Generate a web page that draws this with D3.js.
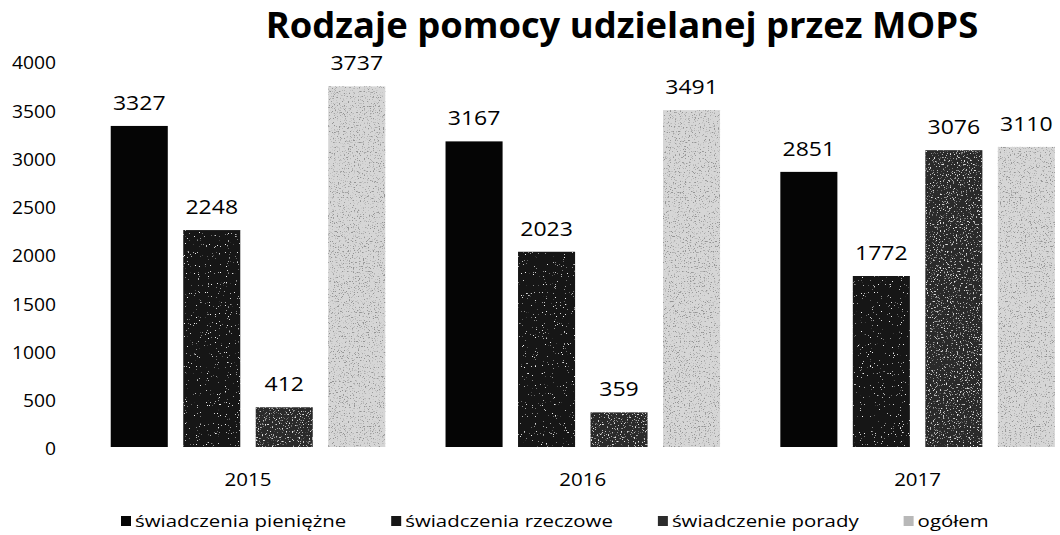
<!DOCTYPE html>
<html>
<head>
<meta charset="utf-8">
<script src="https://cdn.jsdelivr.net/npm/d3@7"></script>
<style>
  html, body { margin: 0; padding: 0; background: #fff; }
  svg { display: block; }
  text { font-family: "Open Sans", "Noto Sans", sans-serif; fill: #000; }
</style>
</head>
<body>
<svg id="chart" width="1060" height="535"></svg>
<script>
// ---- data ----
const title = "Rodzaje pomocy udzielanej przez MOPS";
const years = ["2015", "2016", "2017"];
const seriesNames = ["świadczenia pieniężne", "świadczenia rzeczowe", "świadczenie porady", "ogółem"];
const pieniezne = [3327, 3167, 2851];
const rzeczowe  = [2248, 2023, 1772];
const porady    = [412, 359, 3076];
const ogolem    = [3737, 3491, 3110];
const yTicks = [0, 500, 1000, 1500, 2000, 2500, 3000, 3500, 4000];

const seriesValues = [pieniezne, rzeczowe, porady, ogolem];
const fills = ["#050505", "#161616", "#2c2c2c", "#d6d6d6"];
const filters = [null, "url(#speckDark)", "url(#speckMid)", "url(#speckLight)"];

const svg = d3.select("#chart");

// ---- filters for scanned texture ----
const defs = svg.append("defs");
function speck(id, color, k, b, seed, freq) {
  const f = defs.append("filter").attr("id", id)
    .attr("x", 0).attr("y", 0).attr("width", 1).attr("height", 1)
    .attr("filterUnits", "objectBoundingBox");
  f.append("feTurbulence").attr("type", "fractalNoise").attr("baseFrequency", freq)
    .attr("numOctaves", 2).attr("seed", seed).attr("result", "noise");
  f.append("feColorMatrix").attr("in", "noise").attr("type", "matrix")
    .attr("values", `0 0 0 0 ${color[0]}  0 0 0 0 ${color[1]}  0 0 0 0 ${color[2]}  ${k} 0 0 0 ${b}`)
    .attr("result", "dots");
  f.append("feComposite").attr("in", "dots").attr("in2", "SourceGraphic").attr("operator", "in").attr("result", "clip");
  const m = f.append("feMerge");
  m.append("feMergeNode").attr("in", "SourceGraphic");
  m.append("feMergeNode").attr("in", "clip");
}
speck("speckDark", [0.9, 0.9, 0.9], 10, -7.1, 3, 0.9);
speck("speckMid", [0.8, 0.8, 0.8], 7, -4.3, 7, 0.7);
speck("speckLight", [0.3, 0.3, 0.3], 7, -4.1, 11, 0.8);

// ---- scales ----
const x0 = d3.scaleBand().domain(years).range([80.6, 1085]).paddingInner(0.18).paddingOuter(0.09);
const x1 = d3.scaleBand().domain(d3.range(seriesNames.length)).range([0, x0.bandwidth()]).paddingInner(0.213).paddingOuter(0);
const y = d3.scaleLinear().domain([0, 4000]).range([447, 61]);

function sText(g, x, yy, str, size, sx, anchor, weight) {
  return g.append("text")
    .attr("transform", `translate(${x},${yy}) scale(${sx},1)`)
    .attr("text-anchor", anchor)
    .style("font-size", size + "px")
    .style("font-weight", weight || 400)
    .text(str);
}

// ---- title ----
sText(svg, 622, 38, title, 35, 1.04, "middle", 700);

// ---- y axis labels (no axis line) ----
const yAxis = d3.axisLeft(y).tickValues(yTicks).tickSize(0).tickFormat(d3.format("d"));
const yg = svg.append("g").attr("transform", "translate(56,0)").call(yAxis);
yg.select(".domain").remove();
yg.selectAll(".tick text")
  .attr("x", 0).attr("dy", "0.32em")
  .attr("transform", "translate(0,2) scale(1.07,1)")
  .style("font-size", "18px")
  .style("font-family", "'Open Sans', sans-serif")
  .attr("fill", "#000");

// ---- bars ----
const groups = svg.append("g").selectAll("g")
  .data(years).join("g")
  .attr("transform", d => `translate(${x0(d)},0)`);

groups.each(function (yr, gi) {
  const g = d3.select(this);
  seriesValues.forEach((vals, si) => {
    const v = vals[gi];
    const r = g.append("rect")
      .attr("x", x1(si))
      .attr("y", y(v))
      .attr("width", x1.bandwidth())
      .attr("height", y(0) - y(v))
      .attr("fill", fills[si]);
    if (filters[si]) r.attr("filter", filters[si]);
    sText(g, x1(si) + x1.bandwidth() / 2, y(v) - 16, String(v), 19.5, 1.18, "middle");
  });
});

// ---- x axis labels ----
const xAxis = d3.axisBottom(x0).tickSize(0);
const xg = svg.append("g").attr("transform", `translate(0,${y(0)})`).call(xAxis);
xg.select(".domain").remove();
xg.selectAll(".tick text")
  .attr("y", 0).attr("dy", 0)
  .attr("transform", "translate(0,39) scale(1.14,1)")
  .style("font-size", "18px")
  .style("font-family", "'Open Sans', sans-serif")
  .attr("fill", "#000");

// ---- legend ----
const leg = svg.append("g");
const legSx = 1.2, legSize = 17, legBase = 527;
let lx = 121;
seriesNames.forEach((name, i) => {
  leg.append("rect").attr("x", lx).attr("y", legBase - 11).attr("width", 10).attr("height", 10)
    .attr("fill", i === 3 ? "#b8b8b8" : fills[i]);
  const t = sText(leg, lx + 14, legBase, name, legSize, legSx, "start");
  const w = t.node().getComputedTextLength() * legSx;
  lx = lx + 14 + w + 45;
});
</script>
</body>
</html>
